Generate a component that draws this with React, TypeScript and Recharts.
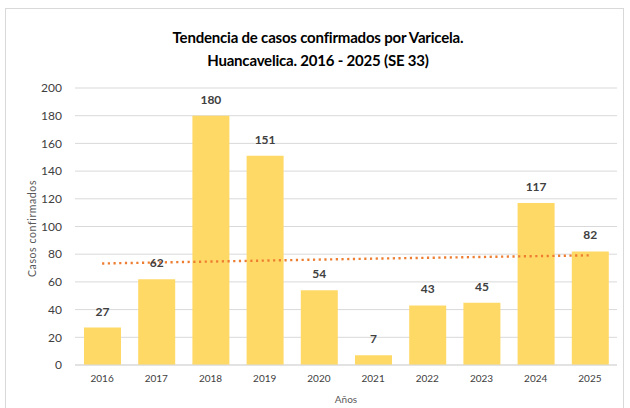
import React from 'react';
import { ComposedChart, Bar, Line, XAxis, YAxis, CartesianGrid, LabelList, Label } from 'recharts';

const years = ['2016', '2017', '2018', '2019', '2020', '2021', '2022', '2023', '2024', '2025'];
const cases = [27, 62, 180, 151, 54, 7, 43, 45, 117, 82];
const trend = [73.3, 74, 74.7, 75.4, 76.1, 76.8, 77.4, 78, 78.6, 79.2];
const yTicks = [0, 20, 40, 60, 80, 100, 120, 140, 160, 180, 200];

const data = years.map((y, i) => ({ year: y, cases: cases[i], trend: trend[i] }));

const FONT = 'Lato, "Open Sans", sans-serif';

export default function App() {
  return (
    <div style={{ position: 'absolute', left: 0, top: 0, width: 630, height: 408, background: '#fff', fontFamily: FONT, overflow: 'hidden' }}>
      <div style={{ position: 'absolute', left: 5, top: 8, width: 619, height: 420, border: '1px solid #d9d9d9', boxSizing: 'border-box' }} />
      <div style={{ position: 'absolute', left: 0, top: 26, width: 636, textAlign: 'center', fontWeight: 700, fontSize: 15, lineHeight: '23px', color: '#000', letterSpacing: -0.2 }}>
        Tendencia de casos confirmados por Varicela.
        <br />
        Huancavelica. 2016 - 2025 (SE 33)
      </div>
      <ComposedChart
        width={630}
        height={408}
        data={data}
        margin={{ top: 88, right: 13, bottom: 13, left: 0 }}
        style={{ position: 'absolute', left: 0, top: 0 }}
      >
        <CartesianGrid vertical={false} stroke="#d9d9d9" />
        <XAxis
          dataKey="year"
          height={30}
          axisLine={{ stroke: '#d9d9d9' }}
          tickLine={false}
          tick={{ fontSize: 10, fill: '#404040', fontFamily: FONT }}
          tickMargin={4}
        >
          <Label
            content={(props: any) => {
              const vb = props.viewBox || {};
              return (
                <text x={vb.x + vb.width / 2} y={403} textAnchor="middle" fontSize={10} fill="#595959" fontFamily={FONT}>
                  Años
                </text>
              );
            }}
          />
        </XAxis>
        <YAxis
          width={75}
          domain={[0, 200]}
          ticks={yTicks}
          axisLine={false}
          tickLine={false}
          tickMargin={7}
          tick={{ fontSize: 12, fill: '#404040', fontFamily: FONT }}
        >
          <Label
            content={(props: any) => {
              const vb = props.viewBox || {};
              const cy = vb.y + vb.height / 2 + 2;
              return (
                <text x={33} y={cy} transform={`rotate(-90 33 ${cy})`} textAnchor="middle" dominantBaseline="middle" fontSize={10.5} letterSpacing={0.6} fill="#595959" fontFamily={FONT}>
                  Casos  confirmados
                </text>
              );
            }}
          />
        </YAxis>
        <Bar dataKey="cases" fill="#FFD966" barSize={37} isAnimationActive={false}>
          <LabelList dataKey="cases" position="top" offset={12} style={{ fontSize: 12, fontWeight: 700, fill: '#404040', fontFamily: FONT }} />
        </Bar>
        <Line
          dataKey="trend"
          stroke="#ED7D31"
          strokeWidth={2.4}
          strokeDasharray="2.2 3.5"
          dot={false}
          activeDot={false}
          isAnimationActive={false}
          type="linear"
        />
      </ComposedChart>
    </div>
  );
}
